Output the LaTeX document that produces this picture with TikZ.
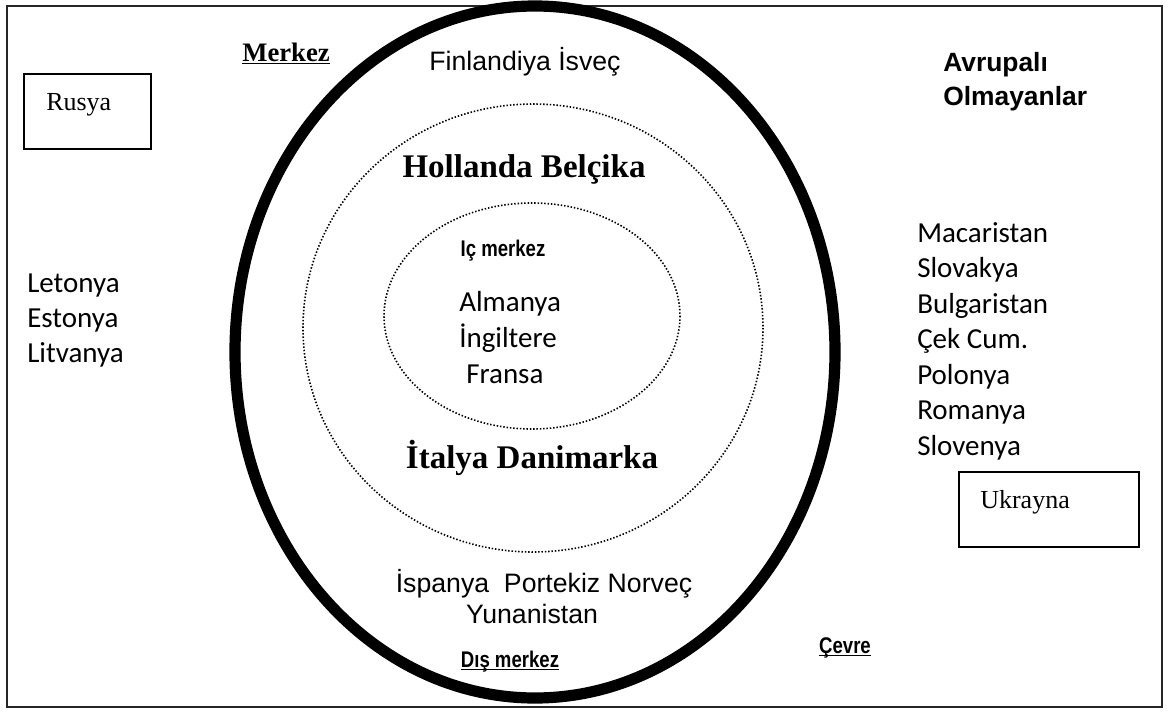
\documentclass[tikz,border=0pt]{standalone}
\usepackage{fontspec}
\setmainfont{Liberation Serif}
\newfontfamily\arialfont{Liberation Sans}
\newfontfamily\calibrifont{Carlito}
\newfontfamily\narrowfont[FakeStretch=0.82]{Liberation Sans}

\begin{document}
\begin{tikzpicture}[x=0.75pt,y=-0.75pt,
		txt/.style={inner sep=0pt, anchor=base},
		ltxt/.style={inner sep=0pt, anchor=base west},
		ring/.style={line width=1.2pt, dash pattern=on 1.1pt off 1.4pt},
		cal/.style={ltxt, font=\calibrifont\fontsize{21.75}{26}\selectfont},
		narrowb/.style={txt, font=\narrowfont\bfseries\fontsize{17}{20}\selectfont},
		bigtimes/.style={txt, font=\bfseries\fontsize{24.75}{30}\selectfont},
		arialtxt/.style={txt, font=\arialfont\fontsize{20}{24}\selectfont},
		timestxt/.style={ltxt, font=\fontsize{19.5}{23}\selectfont}]
	\useasboundingbox (0,0) rectangle (1168,711);
	\draw[line width=1.6pt, black!85] (7,6) rectangle (1162,707);
	% rings
	\draw[line width=8.4pt] (535,352) ellipse [x radius=300, y radius=346];
	\draw[ring] (533,328) ellipse [x radius=230, y radius=224];
	\draw[ring] (532,316) ellipse [x radius=148, y radius=113];
	% boxes
	\draw[line width=1.2pt] (24,74) rectangle (151,149);
	\draw[line width=1.2pt] (959,472) rectangle (1139,547);
	\node[timestxt] (rusya) at (46,110) {Rusya};
	\node[timestxt] (ukrayna) at (980,508) {Ukrayna};
	% labels
	\node[txt, font=\bfseries\fontsize{20}{24}\selectfont] (merkez) at (286,61) {\underline{Merkez}};
	\node[arialtxt] (kuzey) at (525,70) {Finlandiya İsveç};
	\node[bigtimes] (benelux) at (524,177) {Hollanda Belçika};
	\node[narrowb] (icmerkez) at (503,256) {Iç merkez};
	\node[cal] (almanya) at (459,311) {Almanya};
	\node[cal] (ingiltere) at (459,347) {İngiltere};
	\node[cal] (fransa) at (466,383) {Fransa};
	\node[bigtimes] (italya) at (532,468) {İtalya Danimarka};
	\node[arialtxt] (guney) at (544,592) {İspanya\ \ Portekiz\ Norveç};
	\node[arialtxt] (yunan) at (532,623) {Yunanistan};
	\node[narrowb] (dismerkez) at (510,667) {\underline{\smash{Dış merkez}}};
	\node[narrowb] (cevre) at (845,653) {\underline{\smash{Çevre}}};
	\node[ltxt, font=\arialfont\bfseries\fontsize{19.8}{25.5}\selectfont] (avrupali) at (943,71) {Avrupalı};
	\node[ltxt, font=\arialfont\bfseries\fontsize{19.8}{25.5}\selectfont] (olmayan) at (943,105) {Olmayanlar};
	\foreach \ulke [count=\i] in {Letonya,Estonya,Litvanya}
		\node[cal] (baltik\i) at (27,{292+35*(\i-1)}) {\ulke};
	\foreach \ulke [count=\i] in {Macaristan,Slovakya,Bulgaristan,Çek Cum.,Polonya,Romanya,Slovenya}
		\node[cal] (dogu\i) at (917,{242+35.5*(\i-1)}) {\ulke};
\end{tikzpicture}
\end{document}
